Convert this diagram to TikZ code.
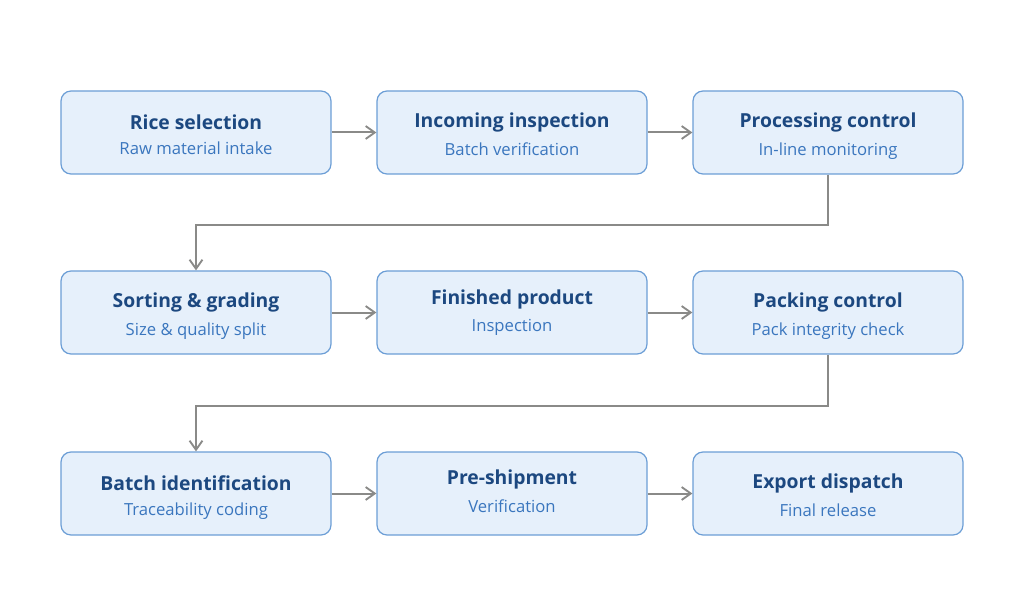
\documentclass[tikz,border=0pt]{standalone}
\usepackage{fontspec}
\setmainfont{Open Sans}
\usetikzlibrary{arrows.meta, positioning}
\definecolor{boxfill}{RGB}{230, 240, 251}
\definecolor{boxline}{RGB}{108, 158, 214}
\definecolor{titlenavy}{RGB}{28, 72, 128}
\definecolor{subblue}{RGB}{58, 118, 190}
\definecolor{linegray}{RGB}{138, 138, 136}
\tikzset{
  flowarrow/.style={-{Straight Barb[length=2.4mm, width=3.4mm, line width=1.4pt]}, line width=1.5pt, linegray},
  stagebox/.style={rectangle, rounded corners=7.5pt, draw=boxline, line width=0.9pt, fill=boxfill,
    minimum width=202.5pt, minimum height=62.25pt, align=center, inner sep=0pt}
}
% title / subtitle, optional extra depth lifts the text
\newcommand{\stagetext}[3][0pt]{{\fontsize{14.5}{19.5}\selectfont\bfseries\color{titlenavy}\rule{0pt}{18pt}#2}\\[7pt]{\fontsize{12.5}{15}\selectfont\color{subblue}#3\rule[\dimexpr-4pt-#1\relax]{0pt}{\dimexpr4pt+#1\relax}}}

\begin{document}
\begin{tikzpicture}[x=0.75pt, y=-0.75pt]
    \useasboundingbox (0,0) rectangle (1024,602);

    % Row 1
    \node[stagebox] (rice) at (196, 132.5) {\stagetext{Rice selection}{Raw material intake}};
    \node[stagebox] (incoming) at (512, 132.5) {\stagetext{Incoming inspection}{Batch verification}};
    \node[stagebox] (processing) at (828, 132.5) {\stagetext{Processing control}{In-line monitoring}};

    % Row 2
    \node[stagebox] (sorting) at (196, 312.5) {\stagetext{Sorting \& grading}{Size \& quality split}};
    \node[stagebox] (finished) at (512, 312.5) {\stagetext[6pt]{Finished product}{Inspection}};
    \node[stagebox] (packing) at (828, 312.5) {\stagetext{Packing control}{Pack integrity check}};

    % Row 3
    \node[stagebox] (batch) at (196, 493.5) {\stagetext{Batch identification}{Traceability coding}};
    \node[stagebox] (preship) at (512, 493.5) {\stagetext[6pt]{Pre-shipment}{Verification}};
    \node[stagebox] (export) at (828, 493.5) {\stagetext{Export dispatch}{Final release}};

    % Horizontal flow
    \draw[flowarrow] (rice) -- (incoming);
    \draw[flowarrow] (incoming) -- (processing);
    \draw[flowarrow] (sorting) -- (finished);
    \draw[flowarrow] (finished) -- (packing);
    \draw[flowarrow] (batch) -- (preship);
    \draw[flowarrow] (preship) -- (export);

    % Row changes
    \coordinate (bendA) at (196, 225);
    \coordinate (bendB) at (196, 406);
    \draw[flowarrow] (processing.south) |- (bendA) -- (sorting.north);
    \draw[flowarrow] (packing.south) |- (bendB) -- (batch.north);
\end{tikzpicture}
\end{document}
